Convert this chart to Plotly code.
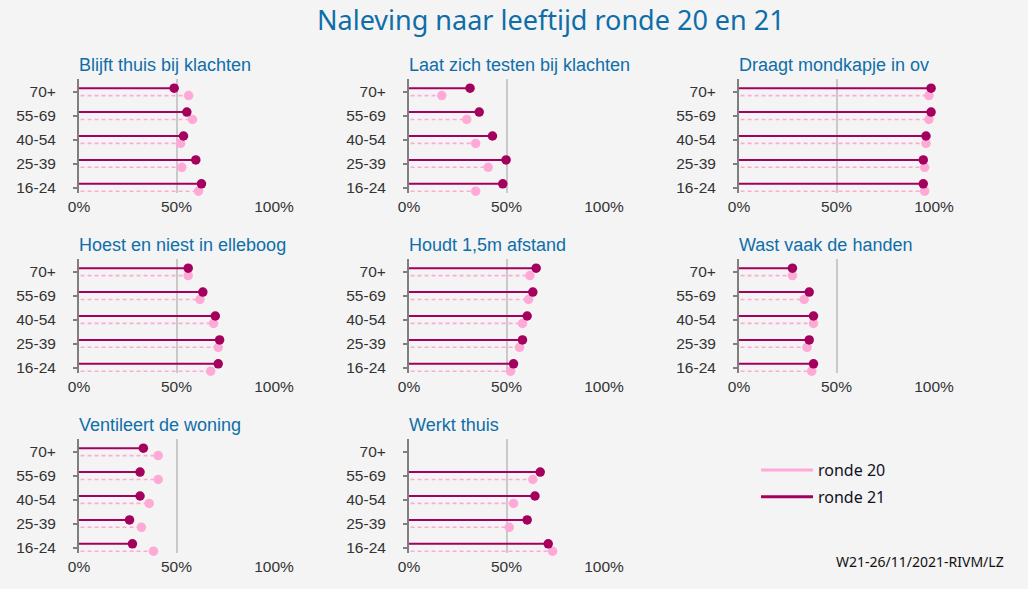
import plotly.graph_objects as go

W, H = 1028, 589

age_groups = ["16-24", "25-39", "40-54", "55-69", "70+"]

panel_titles = [
    "Blijft thuis bij klachten",
    "Laat zich testen bij klachten",
    "Draagt mondkapje in ov",
    "Hoest en niest in elleboog",
    "Houdt 1,5m afstand",
    "Wast vaak de handen",
    "Ventileert de woning",
    "Werkt thuis",
]

# values in %, ordered as age_groups (16-24 ... 70+)
ronde20_blijft = [61.3, 52.7, 52.1, 58.2, 56.2]
ronde21_blijft = [62.8, 59.9, 53.6, 55.3, 48.8]
ronde20_testen = [34.2, 40.6, 34.2, 29.6, 16.8]
ronde21_testen = [48.1, 49.8, 42.8, 36.0, 31.3]
ronde20_mondkapje = [95.2, 95.2, 95.9, 97.4, 97.4]
ronde21_mondkapje = [94.5, 94.5, 95.9, 98.5, 98.5]
ronde20_hoest = [67.5, 71.4, 69.0, 62.0, 56.0]
ronde21_hoest = [71.4, 72.1, 69.9, 63.5, 56.0]
ronde20_afstand = [52.1, 56.7, 58.2, 61.3, 62.0]
ronde21_afstand = [53.6, 58.2, 60.6, 63.5, 65.2]
ronde20_handen = [37.3, 34.9, 38.2, 33.4, 27.4]
ronde21_handen = [38.2, 36.0, 38.2, 36.0, 27.4]
ronde20_ventileert = [38.2, 32.0, 36.0, 40.6, 40.6]
ronde21_ventileert = [27.4, 25.9, 31.3, 31.3, 33.0]
ronde20_werkt = [73.6, 51.4, 53.6, 63.5, None]
ronde21_werkt = [71.4, 60.6, 64.6, 67.3, None]

ronde20 = [ronde20_blijft, ronde20_testen, ronde20_mondkapje, ronde20_hoest,
           ronde20_afstand, ronde20_handen, ronde20_ventileert, ronde20_werkt]
ronde21 = [ronde21_blijft, ronde21_testen, ronde21_mondkapje, ronde21_hoest,
           ronde21_afstand, ronde21_handen, ronde21_ventileert, ronde21_werkt]

x_ticks = [0, 50, 100]
x_ticktext = ["0%", "50%", "100%"]

C21 = "#a4005e"
C20 = "#ffa9d7"
TITLE_BLUE = "#0f6ea8"
BG = "#f4f4f4"

col_x0 = [79, 409, 739]      # pixel of 0%
col_span = 195                # pixels for 100%
row_top = [79, 259, 439]
row_h = 114

OFF = 0.155  # vertical offset of the two rounds around category centre

fig = go.Figure()
layout_axes = {}
annotations = []

for p in range(8):
    r, c = divmod(p, 3)
    n = p + 1
    xa = "x" if n == 1 else f"x{n}"
    ya = "y" if n == 1 else f"y{n}"
    x0 = col_x0[c]
    xd = [x0 / W, (x0 + col_span * 1.005) / W]
    yd = [1 - (row_top[r] + row_h) / H, 1 - row_top[r] / H]

    v20 = ronde20[p]
    v21 = ronde21[p]

    # ronde 20 dashed lines
    lx, ly = [], []
    mx, my = [], []
    for i, v in enumerate(v20):
        if v is None:
            continue
        lx += [0.8, v, None]
        ly += [i - OFF, i - OFF, None]
        mx.append(v)
        my.append(i - OFF)
    fig.add_trace(go.Scatter(x=lx, y=ly, mode="lines", xaxis=xa, yaxis=ya,
                             line=dict(color=C20, width=1.6, dash="4px,3px"),
                             cliponaxis=False,
                             showlegend=False, hoverinfo="skip"))
    fig.add_trace(go.Scatter(x=mx, y=my, mode="markers", xaxis=xa, yaxis=ya,
                             marker=dict(color=C20, size=9.5),
                             cliponaxis=False, showlegend=False))
    # ronde 21 solid lines
    lx, ly = [], []
    mx, my = [], []
    for i, v in enumerate(v21):
        if v is None:
            continue
        lx += [0, v, None]
        ly += [i + OFF, i + OFF, None]
        mx.append(v)
        my.append(i + OFF)
    fig.add_trace(go.Scatter(x=lx, y=ly, mode="lines", xaxis=xa, yaxis=ya,
                             line=dict(color=C21, width=2),
                             cliponaxis=False,
                             showlegend=False, hoverinfo="skip"))
    fig.add_trace(go.Scatter(x=mx, y=my, mode="markers", xaxis=xa, yaxis=ya,
                             marker=dict(color=C21, size=9.5),
                             cliponaxis=False, showlegend=False))

    xkey = "xaxis" if n == 1 else f"xaxis{n}"
    ykey = "yaxis" if n == 1 else f"yaxis{n}"
    layout_axes[xkey] = dict(
        domain=xd, range=[0, 100.5], anchor=ya, automargin=False,
        tickvals=x_ticks, ticktext=x_ticktext,
        showgrid=True, gridcolor="#c9c9c9", gridwidth=1.6,
        zeroline=False, showline=False, ticks="",
        ticklabelstandoff=2,
        tickfont=dict(family="Liberation Sans, Arial", size=15.5, color="#333333"),
        fixedrange=True,
    )
    layout_axes[ykey] = dict(
        domain=yd, range=[-0.23, 4.54], anchor=xa, automargin=False,
        tickvals=list(range(5)), ticktext=age_groups,
        showgrid=False, zeroline=False,
        showline=True, linecolor="#7f7f7f", linewidth=2,
        ticks="outside", ticklen=4, tickcolor="#7f7f7f", tickwidth=1.5,
        ticklabelstandoff=14,
        tickfont=dict(family="Liberation Sans, Arial", size=15.5, color="#333333"),
        fixedrange=True,
    )
    annotations.append(dict(
        text=panel_titles[p], xref="paper", yref="paper",
        x=(x0 - 2) / W, y=1 - (row_top[r] - 14) / H,
        xanchor="left", yanchor="middle", showarrow=False,
        font=dict(family="Liberation Sans, Arial", size=18, color=TITLE_BLUE),
    ))

# legend entries
fig.add_trace(go.Scatter(x=[None], y=[None], mode="lines", name="ronde 20",
                         legendgroup="r20",
                         line=dict(color=C20, width=3)))
fig.add_trace(go.Scatter(x=[None], y=[None], mode="lines", name="ronde 21",
                         legendgroup="r21",
                         line=dict(color=C21, width=3)))

annotations.append(dict(
    text="Naleving naar leeftijd ronde 20 en 21", xref="paper", yref="paper",
    x=551 / W, y=1 - 20 / H, xanchor="center", yanchor="middle", showarrow=False,
    font=dict(family="Noto Sans, Open Sans", size=27, color=TITLE_BLUE),
))
annotations.append(dict(
    text="W21-26/11/2021-RIVM/LZ", xref="paper", yref="paper",
    x=1006 / W, y=1 - 561 / H, xanchor="right", yanchor="middle", showarrow=False,
    font=dict(family="Noto Sans, Open Sans", size=14, color="#111111"),
))

fig.update_layout(
    width=W, height=H,
    margin=dict(l=0, r=0, t=0, b=0, autoexpand=False),
    paper_bgcolor=BG, plot_bgcolor=BG,
    showlegend=True,
    legend=dict(x=756 / W, y=1 - 453 / H, xanchor="left", yanchor="top",
                bgcolor="rgba(0,0,0,0)", itemwidth=52,
                font=dict(family="Noto Sans, Open Sans", size=16, color="#111122"),
                traceorder="grouped", tracegroupgap=3),
    annotations=annotations,
    **layout_axes,
)

fig.write_html("out.html", config={"displayModeBar": False})
